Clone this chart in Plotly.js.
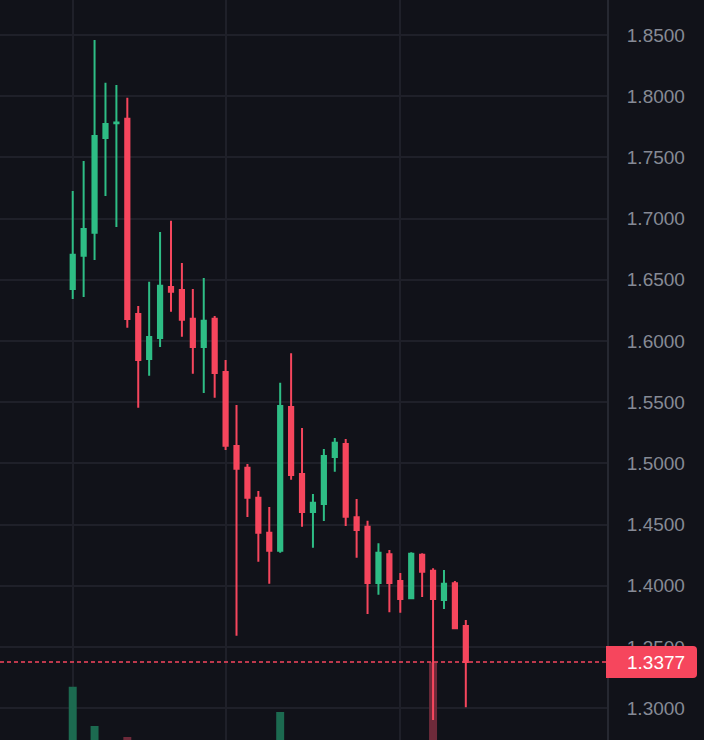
<!DOCTYPE html>
<html>
<head>
<meta charset="utf-8">
<script src="https://cdn.plot.ly/plotly-3.0.1.min.js"></script>
<style>
  html, body { margin: 0; padding: 0; background: #111219; }
  #chart { width: 704px; height: 740px; }
</style>
</head>
<body>
<div id="chart"></div>
<script>
// ---- data ----
const bars = [0,1,2,3,4,5,6,7,8,9,10,11,12,13,14,15,16,17,18,19,20,21,22,23,24,25,26,27,28,29,30,31,32,33,34,35,36];
const openPrices = [1.6425,1.6697,1.6885,1.7658,1.7780,1.7816,1.6221,1.5853,1.6025,1.6441,1.6417,1.6182,1.5951,1.6182,1.5747,1.5142,1.4965,1.4720,1.4434,1.4287,1.5461,1.4913,1.4603,1.4668,1.5052,1.5158,1.4560,1.4483,1.4023,1.4257,1.4039,1.3898,1.4254,1.4123,1.3884,1.4020,1.3672];
const highPrices = [1.7225,1.7471,1.8459,1.8110,1.8092,1.7988,1.6286,1.6484,1.6890,1.6983,1.6637,1.6425,1.6515,1.6204,1.5845,1.5477,1.4995,1.4775,1.4644,1.5659,1.5900,1.5289,1.4750,1.5118,1.5207,1.5199,1.4709,1.4532,1.4347,1.4292,1.4105,1.4274,1.4266,1.4143,1.4129,1.4039,1.3720];
const lowPrices = [1.6343,1.6359,1.6662,1.7185,1.6931,1.6109,1.5455,1.5717,1.5951,1.6239,1.6035,1.5733,1.5575,1.5537,1.5110,1.3592,1.4562,1.4197,1.4017,1.4270,1.4867,1.4483,1.4311,1.4529,1.4932,1.4489,1.4230,1.3770,1.3927,1.3783,1.3780,1.3892,1.3908,1.2904,1.3810,1.3647,1.3007];
const closePrices = [1.6705,1.6915,1.7675,1.7773,1.7786,1.6180,1.5845,1.6033,1.6452,1.6403,1.6174,1.5951,1.6166,1.5739,1.5145,1.4957,1.4720,1.4434,1.4287,1.5469,1.4905,1.4603,1.4679,1.5060,1.5169,1.4565,1.4456,1.4023,1.4270,1.4023,1.3892,1.4262,1.4115,1.3892,1.4017,1.3653,1.3377];
const volumes = [272,140,219,120,110,204,150,95,130,80,105,90,115,100,160,175,120,135,110,238,150,125,70,110,85,130,75,140,95,90,85,120,70,305,80,110,170];
const priceTicks = [1.30,1.35,1.40,1.45,1.50,1.55,1.60,1.65,1.70,1.75,1.80,1.85];
const dayStarts = [0,14,30];
const lastPrice = 1.3377;
const lastPriceLabel = '1.3377';

// ---- style ----
const BG = '#111219';
const GRID = '#1f2029';
const UP = '#2ebd85';
const DOWN = '#f6465d';
const UP_VOL = '#1c6a50';
const DOWN_VOL = '#6e2a3a';
const TEXT = '#868a95';
const FONT = 'Liberation Sans, Arial, sans-serif';

const volColors = bars.map((_, i) => closePrices[i] >= openPrices[i] ? UP_VOL : DOWN_VOL);

const volumeTrace = {
  type: 'bar',
  x: bars,
  y: volumes,
  xaxis: 'x',
  yaxis: 'y',
  width: 0.73,
  marker: { color: volColors, line: { width: 0 } },
  hoverinfo: 'skip',
  showlegend: false
};

const candleTrace = {
  type: 'candlestick',
  x: bars,
  open: openPrices,
  high: highPrices,
  low: lowPrices,
  close: closePrices,
  xaxis: 'x',
  yaxis: 'y2',
  whiskerwidth: 0,
  increasing: { line: { color: UP, width: 2 }, fillcolor: UP },
  decreasing: { line: { color: DOWN, width: 2 }, fillcolor: DOWN },
  showlegend: false
};

const layout = {
  width: 704,
  height: 740,
  margin: { l: 0, r: 97, t: 0, b: 0, pad: 0 },
  paper_bgcolor: BG,
  plot_bgcolor: BG,
  showlegend: false,
  boxgap: 0.45,
  font: { family: FONT, size: 19, color: TEXT },
  xaxis: {
    range: [-6.66, 48.93],
    tickvals: dayStarts,
    showticklabels: false,
    ticks: '',
    showgrid: true,
    gridcolor: GRID,
    gridwidth: 2,
    zeroline: false,
    showline: false,
    rangeslider: { visible: false },
    fixedrange: true
  },
  yaxis: {
    range: [200, 1200],
    visible: false,
    showgrid: false,
    zeroline: false,
    fixedrange: true
  },
  yaxis2: {
    overlaying: 'y',
    side: 'right',
    range: [1.274, 1.8786],
    tickvals: priceTicks,
    tickformat: '.4f',
    ticks: '',
    ticklabelstandoff: 14,
    ticklabelshift: -1.5,
    showgrid: true,
    gridcolor: GRID,
    gridwidth: 2,
    zeroline: false,
    showline: true,
    linecolor: '#262831',
    linewidth: 2,
    tickfont: { family: FONT, size: 19, color: TEXT },
    fixedrange: true
  },
  shapes: [
    {
      type: 'line',
      xref: 'paper', x0: 0, x1: 1,
      yref: 'y2', y0: lastPrice, y1: lastPrice,
      line: { color: DOWN, width: 1.5, dash: '4px,3px' },
      layer: 'above'
    },
    {
      type: 'path',
      xref: 'paper', xsizemode: 'pixel', xanchor: 1,
      yref: 'y2', ysizemode: 'pixel', yanchor: lastPrice,
      path: 'M -1,-16 L 86,-16 Q 90,-16 90,-12 L 90,12 Q 90,16 86,16 L -1,16 Z',
      fillcolor: DOWN,
      line: { width: 0 },
      layer: 'above'
    }
  ],
  annotations: [
    {
      xref: 'paper', x: 1, xanchor: 'center', xshift: 49,
      yref: 'y2', y: lastPrice, yanchor: 'middle',
      text: lastPriceLabel,
      showarrow: false,
      font: { family: FONT, size: 19, color: '#ffffff' }
    }
  ]
};

Plotly.newPlot('chart', [volumeTrace, candleTrace], layout, { displayModeBar: false, staticPlot: true });
</script>
</body>
</html>
